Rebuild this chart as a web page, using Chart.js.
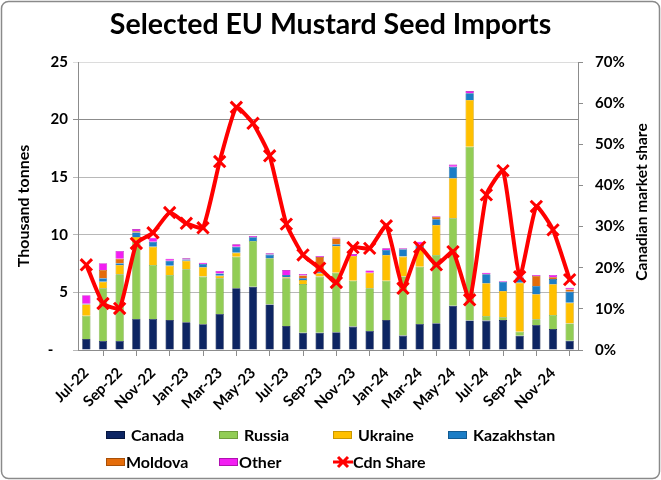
<!DOCTYPE html>
<html>
<head>
<meta charset="utf-8">
<script src="https://cdn.jsdelivr.net/npm/chart.js"></script>
<style>
  html, body { margin: 0; padding: 0; background: #fff; }
  #wrap { width: 661px; height: 480px; }
</style>
</head>
<body>
<div id="wrap"><canvas id="MustardChart"></canvas></div>
<script>
  // months shown on the category axis
  const months = [
    'Jul-22', 'Aug-22', 'Sep-22', 'Oct-22', 'Nov-22', 'Dec-22',
    'Jan-23', 'Feb-23', 'Mar-23', 'Apr-23', 'May-23', 'Jun-23',
    'Jul-23', 'Aug-23', 'Sep-23', 'Oct-23', 'Nov-23', 'Dec-23',
    'Jan-24', 'Feb-24', 'Mar-24', 'Apr-24', 'May-24', 'Jun-24',
    'Jul-24', 'Aug-24', 'Sep-24', 'Oct-24', 'Nov-24', 'Dec-24'
  ];

  // imports, thousand tonnes
  const canada = [0.95, 0.78, 0.78, 2.7, 2.69, 2.6, 2.4, 2.23, 3.13, 5.35, 5.5, 3.96,
    2.08, 1.5, 1.5, 1.55, 2.03, 1.65, 2.6, 1.25, 2.26, 2.33, 3.85, 2.57,
    2.55, 2.6, 1.24, 2.17, 1.82, 0.81];
  const russia = [2.03, 4.57, 5.79, 6.8, 4.69, 3.91, 4.6, 4.14, 3.09, 2.75, 3.96, 4.0,
    4.14, 4.22, 4.87, 5.16, 3.99, 3.7, 3.42, 5.13, 4.97, 5.92, 7.58, 15.08,
    0.4, 0.24, 0.35, 0.49, 1.22, 1.5];
  const ukraine = [0.98, 0.58, 0.81, 0.3, 1.59, 0.81, 0.75, 0.81, 0.23, 0.35, 0, 0,
    0.1, 0.35, 0.3, 2.32, 2.14, 1.36, 2.23, 1.73, 1.5, 2.6, 3.47, 4.05,
    2.84, 2.28, 4.25, 2.17, 2.66, 1.8];
  const kazakhstan = [0.05, 0.3, 0.15, 0.4, 0.43, 0.43, 0.1, 0.29, 0.2, 0.52, 0.32, 0.32,
    0.18, 0.15, 0.1, 0.15, 0, 0, 0.43, 0.64, 0.3, 0.49, 1.0, 0.58,
    0.78, 0.81, 0.45, 0.73, 0.46, 0.95];
  const moldova = [0, 0.72, 0.4, 0.1, 0, 0, 0, 0, 0, 0, 0, 0,
    0, 0.25, 1.3, 0.5, 0, 0, 0, 0, 0.1, 0.23, 0, 0,
    0, 0, 0, 0.87, 0.15, 0.2];
  const other = [0.75, 0.58, 0.67, 0.2, 0.35, 0.18, 0.11, 0.11, 0.21, 0.2, 0.12, 0.11,
    0.44, 0.13, 0.1, 0.09, 0.17, 0.2, 0.15, 0.09, 0.27, 0.06, 0.2, 0.2,
    0.14, 0.06, 0.08, 0.09, 0.2, 0.14];

  // Canadian market share, %
  const cdnShare = [20.7, 11.3, 10.1, 25.9, 28.5, 33.4, 30.8, 29.7, 45.8, 59.0, 55.1, 47.2,
    30.6, 23.1, 19.9, 16.4, 24.9, 24.7, 30.2, 15.0, 25.0, 20.7, 23.9, 12.2,
    37.7, 43.6, 17.8, 34.9, 29.2, 17.1];

  Chart.defaults.font.family = 'Lato, "Open Sans", sans-serif';
  Chart.defaults.font.weight = 'bold';
  Chart.defaults.color = '#000';

  function bar(label, data, color, edge) {
    return {
      type: 'bar', label: label, data: data, stack: 'imp',
      backgroundColor: color, borderColor: edge, borderWidth: 0.6,
      barPercentage: 0.5, categoryPercentage: 1, order: 1
    };
  }

  const datasets = [
    bar('Canada', canada, '#0d2563', '#06163f'),
    bar('Russia', russia, '#92cd55', '#6f9e3c'),
    bar('Ukraine', ukraine, '#ffc000', '#c99700'),
    bar('Kazakhstan', kazakhstan, '#1b7dc6', '#125a91'),
    bar('Moldova', moldova, '#e46c0a', '#a84f07'),
    bar('Other', other, '#f21ef2', '#b010b0'),
    {
      type: 'line', label: 'Cdn Share', data: cdnShare, yAxisID: 'y1',
      borderColor: '#ff0000', backgroundColor: '#ff0000', borderWidth: 4,
      pointStyle: 'crossRot', pointRadius: 8, pointBorderWidth: 3,
      pointBorderColor: '#ff0000', tension: 0.15, order: 0
    }
  ];

  // outer rounded frame + right axis title (reads bottom to top)
  const framePlugin = {
    id: 'frame',
    beforeDraw(chart) {
      const ctx = chart.ctx;
      ctx.save();
      ctx.fillStyle = '#fff';
      ctx.fillRect(0, 0, chart.width, chart.height);
      ctx.strokeStyle = '#8a8a8a';
      ctx.lineWidth = 1.5;
      ctx.beginPath();
      ctx.roundRect(1.5, 1.5, chart.width - 3, chart.height - 3, 7);
      ctx.stroke();
      ctx.restore();
    },
    afterDraw(chart) {
      const ctx = chart.ctx;
      const a = chart.chartArea;
      ctx.save();
      ctx.translate(642, (a.top + a.bottom) / 2 - 4);
      ctx.rotate(-Math.PI / 2);
      ctx.font = 'bold 15.5px Lato, sans-serif';
      ctx.fillStyle = '#000';
      ctx.textAlign = 'center';
      ctx.textBaseline = 'middle';
      ctx.fillText('Canadian market share', 0, 0);
      ctx.restore();
    }
  };

  // legend laid out in columns like the original
  const gridLegend = {
    id: 'gridLegend',
    afterDraw(chart) {
      const ctx = chart.ctx;
      const cols = [106, 219, 333, 448];
      const rows = [435, 462];
      ctx.save();
      ctx.font = 'bold 16px Lato, sans-serif';
      ctx.textBaseline = 'middle';
      chart.data.datasets.forEach((ds, i) => {
        const x = cols[i % 4];
        const y = rows[Math.floor(i / 4)];
        const gap = i < 4 ? 6 : 1;
        if (ds.type === 'line') {
          ctx.strokeStyle = ds.borderColor;
          ctx.lineWidth = 3;
          ctx.beginPath();
          ctx.moveTo(x, y); ctx.lineTo(x + 20, y);
          ctx.moveTo(x + 5, y - 5); ctx.lineTo(x + 15, y + 5);
          ctx.moveTo(x + 15, y - 5); ctx.lineTo(x + 5, y + 5);
          ctx.stroke();
        } else {
          ctx.fillStyle = ds.backgroundColor;
          ctx.fillRect(x, y - 4, 19, 8);
          ctx.strokeStyle = ds.borderColor;
          ctx.lineWidth = 1;
          ctx.strokeRect(x + 0.5, y - 3.5, 18, 7);
        }
        ctx.fillStyle = '#000';
        ctx.fillText(ds.label, x + 19 + gap, y + 1);
      });
      ctx.restore();
    }
  };

  const config = {
    data: { labels: months, datasets: datasets },
    options: {
      responsive: true,
      maintainAspectRatio: false,
      animation: false,
      layout: { padding: { left: 0, right: 0, top: 0, bottom: 58 } },
      plugins: {
        legend: { display: false },
        tooltip: { enabled: false },
        title: {
          display: true,
          text: 'Selected EU Mustard Seed Imports',
          font: { size: 28.5, weight: 'bold' },
          color: '#000',
          padding: { top: 8, bottom: 19.8 }
        }
      },
      scales: {
        x: {
          stacked: true,
          offset: true,
          afterFit(s) { s.height = 72; },
          grid: { offset: true, drawOnChartArea: false, tickLength: 6, color: '#8c8c8c' },
          border: { color: '#8c8c8c' },
          ticks: {
            autoSkip: false, maxRotation: 45, minRotation: 45, padding: 8,
            font: { size: 15, weight: 'bold' },
            callback(v, i) { return i % 2 === 0 ? months[i] : null; }
          }
        },
        y: {
          stacked: true,
          position: 'left',
          min: 0, max: 25,
          afterFit(s) { s.width = 78; },
          title: {
            display: true, text: 'Thousand tonnes',
            font: { size: 16, weight: 'bold' }, padding: { top: 14, bottom: 0 }
          },
          grid: {
            tickLength: 5,
            color(c) { return c.tick.value === 25 ? '#dcdcdc' : (c.tick.value === 20 ? '#8c8c8c' : '#b8b8b8'); }
          },
          border: { color: '#8c8c8c' },
          ticks: {
            stepSize: 5, padding: 5,
            font: { size: 15, weight: 'bold' },
            callback(v) { return v === 0 ? '-    ' : v; }
          }
        },
        y1: {
          position: 'right',
          min: 0, max: 70,
          afterFit(s) { s.width = 83; },
          title: { display: false },
          grid: { drawOnChartArea: false, tickLength: 5, color: '#8c8c8c' },
          border: { color: '#8c8c8c' },
          ticks: {
            stepSize: 10, padding: 12,
            font: { size: 15, weight: 'bold' },
            callback(v) { return v + '%'; }
          }
        }
      }
    },
    plugins: [framePlugin, gridLegend]
  };

  const mustardChart = new Chart(document.getElementById('MustardChart'), config);
</script>
</body>
</html>
